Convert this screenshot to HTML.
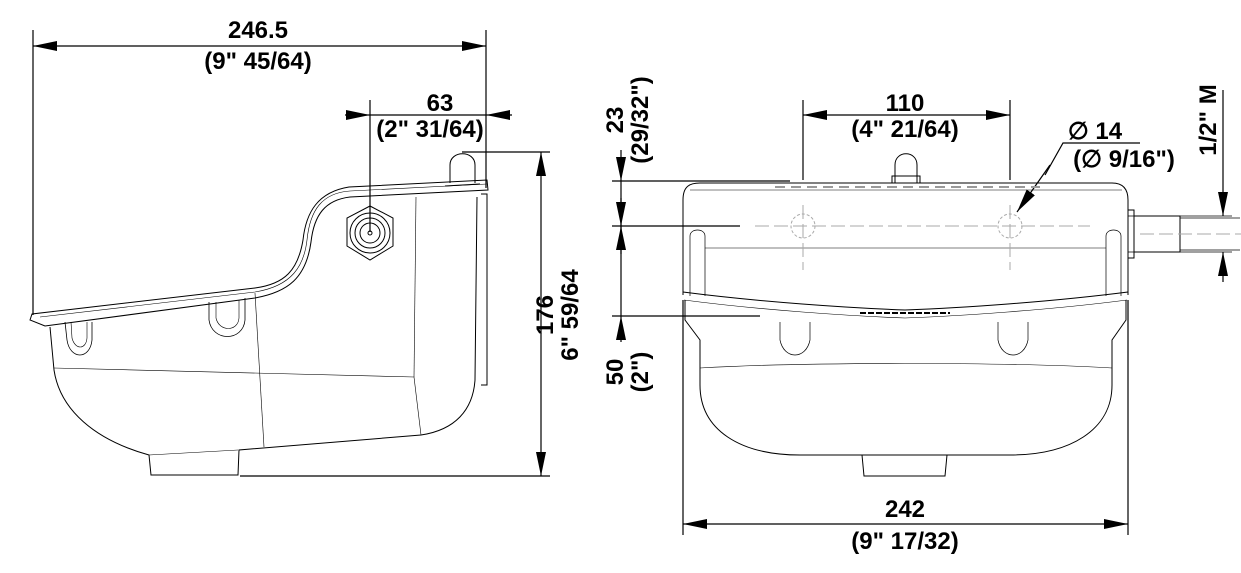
<!DOCTYPE html>
<html><head><meta charset="utf-8"><style>
html,body{margin:0;padding:0;background:#fff}
svg{display:block}
text{font-family:"Liberation Sans",Arial,sans-serif;font-weight:bold;font-size:24px;fill:#000}
</style></head><body>
<svg width="1241" height="573" viewBox="0 0 1241 573" xmlns="http://www.w3.org/2000/svg">
<defs>
<marker id="a" viewBox="0 0 24 10" refX="24" refY="5" markerWidth="24" markerHeight="10" markerUnits="userSpaceOnUse" orient="auto-start-reverse"><path d="M0,0L24,5L0,10z" fill="#000"/></marker>
</defs>
<g stroke="#000" stroke-width="1.2" fill="none">
<line x1="33" y1="30" x2="33" y2="315"/>
<line x1="486" y1="30" x2="486" y2="188"/>
<line x1="33" y1="46" x2="486" y2="46" marker-start="url(#a)" marker-end="url(#a)"/>
<line x1="370" y1="100" x2="370" y2="232"/>
<line x1="345" y1="115" x2="370" y2="115" marker-end="url(#a)"/>
<line x1="370" y1="115" x2="486" y2="115"/>
<line x1="512" y1="115" x2="486" y2="115" marker-end="url(#a)"/>
<line x1="462" y1="152" x2="550" y2="152"/>
<line x1="240" y1="476" x2="550" y2="476"/>
<line x1="541" y1="152" x2="541" y2="476" marker-start="url(#a)" marker-end="url(#a)"/>
</g>
<text x="258" y="38" text-anchor="middle">246.5</text>
<text x="258" y="69" text-anchor="middle">(9" 45/64)</text>
<text x="440" y="111" text-anchor="middle">63</text>
<text x="430" y="137" text-anchor="middle">(2" 31/64)</text>
<text transform="translate(553,315) rotate(-90)" text-anchor="middle">176</text>
<text transform="translate(578,315) rotate(-90)" text-anchor="middle">6" 59/64</text>

<g stroke="#000" stroke-width="1" fill="none">
<path d="M30,320 L32,314 L255,288 C285,284 298,270 303,240 C306,212 318,192 349,187 L487,180 L488,190 L350,197 C325,200 314,215 311,242 C306,278 288,292 255,298 L45,326 Z"/>
<path d="M40,317 L255,292 C292,286 304,266 307,240 C310,210 322,193 350,191 L487,184" stroke-width="0.6"/>
<path d="M50,327 L54,370 C60,410 95,440 149,455 L151,475 L238,475 L239,450 L421,435 C455,430 473,410 475,380 L477,197"/>
<path d="M481,194 L487,194 L487,385 L481,385"/>
<path d="M54,368 L414,377 L421,435" stroke-width="0.6"/>
<path d="M255,293 L264,447" stroke-width="0.6"/>
<path d="M416,197 L414,377" stroke-width="0.6"/>
<path d="M149,455 L238,450" stroke-width="0.6"/>
<path d="M65,322 L67,340 C70,360 90,360 92,340 L92,322" stroke-width="0.8"/>
<path d="M71,322 L72,338 C75,350 86,350 87,338 L87,322" stroke-width="0.6"/>
<path d="M209,302 L209,320 C212,342 243,342 245,320 L245,298" stroke-width="0.8"/>
<path d="M216,302 L216,318 C219,332 238,332 239,318 L239,300" stroke-width="0.6"/>
<path d="M450,183 L450,165 C450,150 475,150 475,165 L475,183" />
<path d="M445,186 L480,184" />
<polygon points="370,206 393,218 393,246 370,260 347,246 347,218"/>
<circle cx="370" cy="233" r="20"/><circle cx="370" cy="233" r="15"/><circle cx="370" cy="233" r="10"/>
<circle cx="370" cy="233" r="2"/>
</g>

<g stroke="#000" stroke-width="1.2" fill="none">
<line x1="612" y1="181" x2="790" y2="181"/>
<line x1="612" y1="226" x2="740" y2="226"/>
<line x1="612" y1="316" x2="760" y2="316"/>
<line x1="621" y1="150" x2="621" y2="181" marker-end="url(#a)"/>
<line x1="621" y1="181" x2="621" y2="226"/>
<line x1="621" y1="198" x2="621" y2="226" marker-end="url(#a)"/>
<line x1="621" y1="254" x2="621" y2="226" marker-end="url(#a)"/>
<line x1="621" y1="226" x2="621" y2="316"/>
<line x1="621" y1="342" x2="621" y2="316" marker-end="url(#a)"/>
<line x1="803" y1="100" x2="803" y2="180"/>
<line x1="1010" y1="100" x2="1010" y2="180"/>
<line x1="803" y1="115" x2="1010" y2="115" marker-start="url(#a)" marker-end="url(#a)"/>
<line x1="683" y1="300" x2="683" y2="535"/>
<line x1="1128" y1="300" x2="1128" y2="535"/>
<line x1="683" y1="524" x2="1128" y2="524" marker-start="url(#a)" marker-end="url(#a)"/>
<polyline points="1140,143 1063,143 1045,175" />
<line x1="1050" y1="165" x2="1017" y2="212" marker-end="url(#a)"/>
<line x1="1223" y1="90" x2="1223" y2="216" marker-end="url(#a)"/>
<line x1="1223" y1="282" x2="1223" y2="252" marker-end="url(#a)"/>
<line x1="1128" y1="216" x2="1232" y2="216" stroke-width="0.8"/>
<line x1="1128" y1="252" x2="1232" y2="252" stroke-width="0.8"/>
</g>
<text x="905" y="111" text-anchor="middle">110</text>
<text x="905" y="137" text-anchor="middle">(4" 21/64)</text>
<text x="1095" y="139" text-anchor="middle">∅ 14</text>
<text x="1124" y="167" text-anchor="middle">(∅  9/16")</text>
<text x="905" y="517" text-anchor="middle">242</text>
<text x="905" y="549" text-anchor="middle">(9" 17/32)</text>
<text transform="translate(623,120) rotate(-90)" text-anchor="middle">23</text>
<text transform="translate(648,120) rotate(-90)" text-anchor="middle">(29/32")</text>
<text transform="translate(623,372) rotate(-90)" text-anchor="middle">50</text>
<text transform="translate(648,372) rotate(-90)" text-anchor="middle">(2")</text>
<text transform="translate(1216,120) rotate(-90)" text-anchor="middle">1/2" M</text>

<g stroke="#000" stroke-width="1" fill="none">
<path d="M683,295 L683,200 C683,186 690,183 700,183 L1112,183 C1122,183 1128,188 1128,200 L1128,295"/>
<line x1="690" y1="190" x2="1122" y2="190" stroke-width="0.5"/>
<path d="M683,292 C760,302 850,308 905,310 C960,308 1050,302 1128,292" />
<path d="M684,300 C760,310 850,316 905,318 C960,316 1050,310 1127,300" stroke-width="0.6"/>
<path d="M690,296 L690,236 C690,228 705,228 705,236 L705,296" stroke-width="0.7"/>
<path d="M1106,296 L1106,236 C1106,228 1121,228 1121,236 L1121,296" stroke-width="0.7"/>
<line x1="705" y1="248" x2="1106" y2="248" stroke-width="0.6"/>
<path d="M685,300 L685,320 L700,340 L700,385 C700,430 740,455 800,455 L1010,455 C1070,455 1112,430 1112,385 L1112,340 L1126,320 L1126,300"/>
<path d="M700,368 C800,362 1010,362 1112,368" stroke-width="0.6"/>
<path d="M862,455 L864,476 L945,476 L947,455"/>
<path d="M780,322 L780,340 C784,360 806,360 810,340 L810,322" stroke-width="0.7"/>
<path d="M998,322 L998,340 C1002,360 1024,360 1028,340 L1028,322" stroke-width="0.7"/>
<path d="M895,183 L895,165 C895,150 917,150 917,165 L917,183"/>
<path d="M892,183 L892,176 L920,176 L920,183"/>
<line x1="860" y1="313" x2="950" y2="313" stroke-width="2" stroke-dasharray="6,2"/>
<line x1="775" y1="187" x2="1040" y2="187" stroke="#999" stroke-width="2" stroke-dasharray="10,6"/>
<rect x="1128" y="210" width="6" height="48"/>
<rect x="1134" y="216" width="46" height="36"/>
<line x1="1180" y1="218" x2="1240" y2="218" stroke-width="0.8"/>
<line x1="1180" y1="250" x2="1240" y2="250" stroke-width="0.8"/>
</g>
<g stroke="#aaa" stroke-width="1" fill="none" stroke-dasharray="14,5">
<line x1="755" y1="226" x2="1090" y2="226"/>
<line x1="803" y1="205" x2="803" y2="270"/>
<line x1="1010" y1="205" x2="1010" y2="270"/>
<line x1="1140" y1="234" x2="1241" y2="234"/>
</g>
<g stroke="#aaa" stroke-width="1" fill="none" stroke-dasharray="3,2">
<circle cx="803" cy="226" r="12"/><circle cx="1010" cy="226" r="12"/>
</g>
</svg>
</body></html>
